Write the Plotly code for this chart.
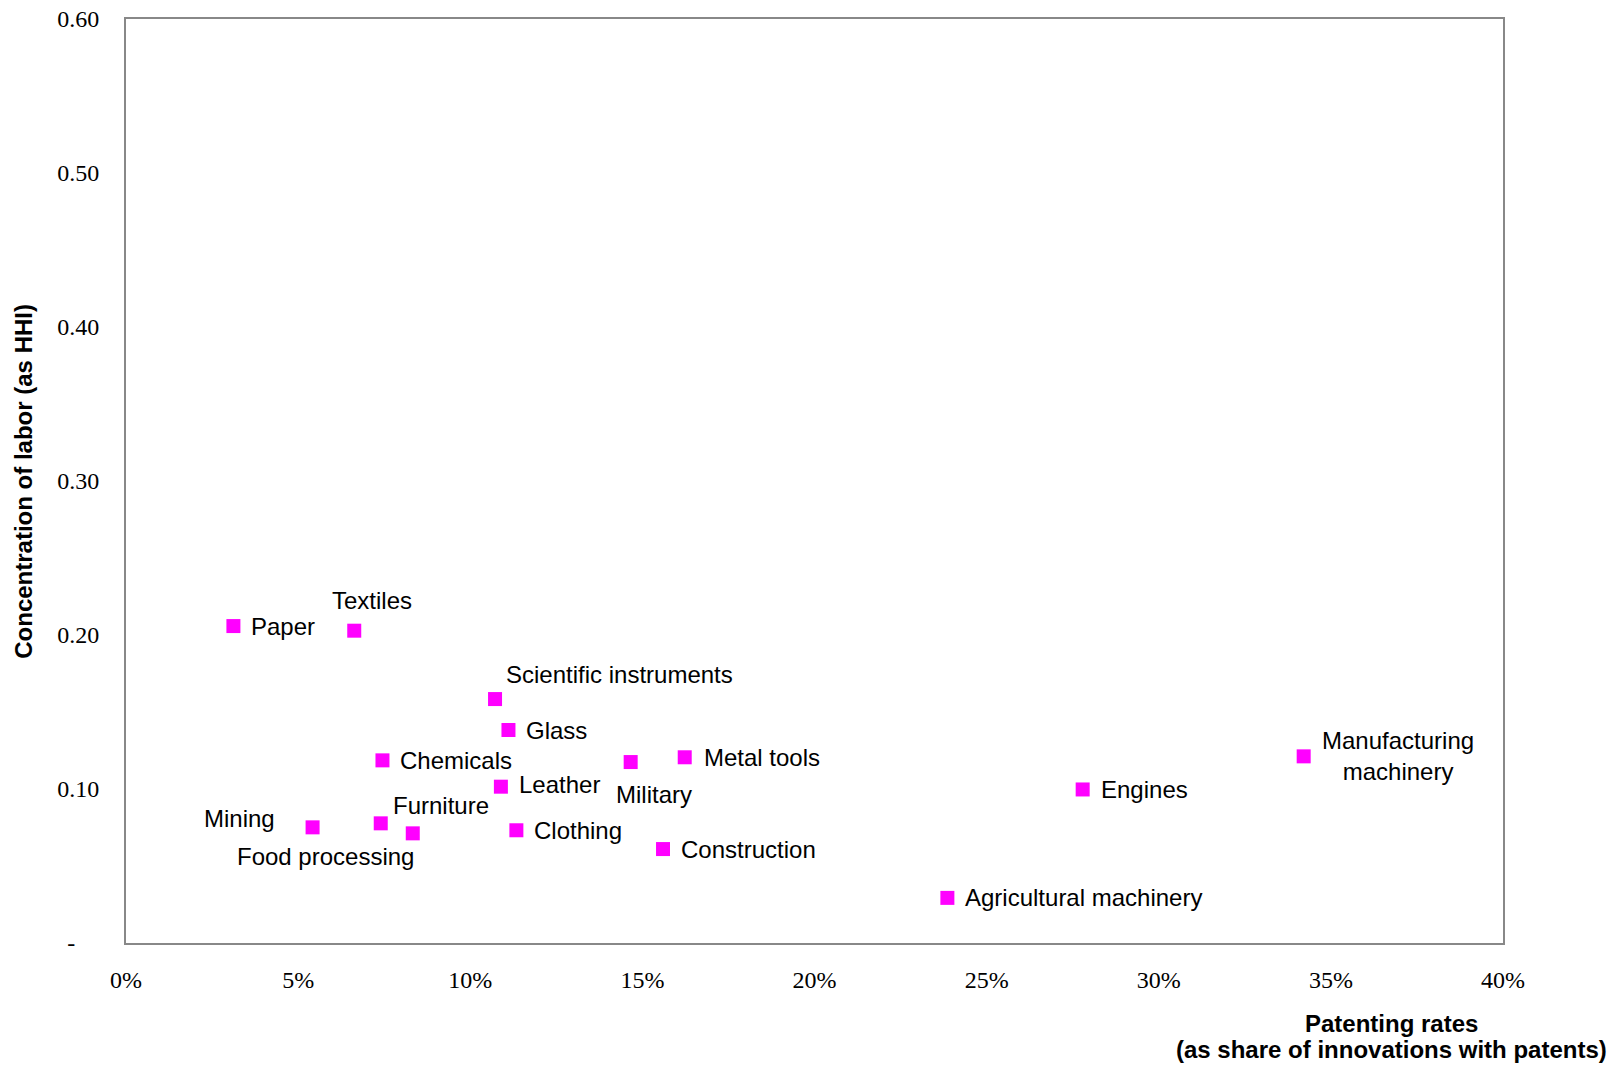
import plotly.graph_objects as go

# Industries: patenting rate (share of innovations with patents) vs. labor concentration (HHI)
industries = [
    "Paper", "Textiles", "Scientific instruments", "Glass", "Chemicals",
    "Leather", "Furniture", "Food processing", "Mining", "Clothing",
    "Military", "Metal tools", "Construction", "Manufacturing<br>machinery",
    "Engines", "Agricultural machinery",
]
patent_rate = [
    0.0312, 0.0663, 0.1072, 0.1111, 0.0745,
    0.1089, 0.0740, 0.0833, 0.0542, 0.1134,
    0.1466, 0.1623, 0.1560, 0.3421,
    0.2779, 0.2386,
]
hhi = [
    0.2058, 0.2028, 0.1584, 0.1383, 0.1186,
    0.1015, 0.0777, 0.0712, 0.0751, 0.0732,
    0.1175, 0.1206, 0.0610, 0.1212,
    0.0997, 0.0293,
]

x_tickvals = [0, 0.05, 0.10, 0.15, 0.20, 0.25, 0.30, 0.35, 0.40]
y_tickvals = [0, 0.1, 0.2, 0.3, 0.4, 0.5, 0.6]
y_ticktext = ["-\u00a0\u00a0\u00a0\u00a0", "0.10", "0.20", "0.30", "0.40", "0.50", "0.60"]

# label placement per point: (xanchor, xshift px, yshift px)
label_place = {
    "Paper": ("left", 16, 0),
    "Textiles": ("center", 18, 30),
    "Scientific instruments": ("left", 9, 25),
    "Glass": ("left", 16, 0),
    "Chemicals": ("left", 16, 0),
    "Leather": ("left", 16, 2),
    "Furniture": ("left", 10, 18),
    "Food processing": ("right", 3, -23),
    "Mining": ("right", -36, 9),
    "Clothing": ("left", 16, 0),
    "Military": ("center", 23, -32),
    "Metal tools": ("left", 17, 0),
    "Construction": ("left", 16, 0),
    "Manufacturing<br>machinery": ("center", 94, 0),
    "Engines": ("left", 16, 0),
    "Agricultural machinery": ("left", 16, 0),
}

LABEL_FONT = dict(family="Arial, Liberation Sans, sans-serif", size=24, color="#000000")
TICK_FONT = dict(family="Times New Roman, Liberation Serif, serif", size=24, color="#000000")
TITLE_FONT = dict(family="Arial, Liberation Sans, sans-serif", size=24, color="#000000")

fig = go.Figure()
fig.add_trace(go.Scatter(
    x=patent_rate, y=hhi, mode="markers",
    marker=dict(symbol="square", size=14, color="#FF00FF", line=dict(width=0)),
    hovertext=industries, hoverinfo="text+x+y", showlegend=False,
))

annotations = []
for name, xv, yv in zip(industries, patent_rate, hhi):
    anchor, dx, dy = label_place[name]
    annotations.append(dict(
        x=xv, y=yv, xref="x", yref="y", text=name, showarrow=False,
        xanchor=anchor, yanchor="middle", xshift=dx, yshift=dy,
        font=LABEL_FONT, align="center",
    ))

# axis titles
annotations.append(dict(
    x=-0.075, y=0.5, xref="paper", yref="paper", text="<b>Concentration of labor (as HHI)</b>",
    textangle=-90, showarrow=False, xanchor="center", yanchor="middle", font=TITLE_FONT,
))
annotations.append(dict(
    x=0.919, y=-0.0866, xref="paper", yref="paper", text="<b>Patenting rates</b>",
    showarrow=False, xanchor="center", yanchor="middle", font=TITLE_FONT,
))
annotations.append(dict(
    x=0.919, y=-0.1158, xref="paper", yref="paper",
    text="<b>(as share of innovations with patents)</b>",
    showarrow=False, xanchor="center", yanchor="middle", font=TITLE_FONT,
))

fig.update_layout(
    width=1620, height=1066,
    margin=dict(l=126, r=117, t=19, b=123),
    paper_bgcolor="white", plot_bgcolor="white",
    annotations=annotations,
    xaxis=dict(
        range=[0, 0.40], tickvals=x_tickvals, tickformat=".0%",
        showgrid=False, zeroline=False, automargin=False,
        showline=True, linecolor="#888888", linewidth=2, mirror=True,
        ticks="", tickfont=TICK_FONT, ticklabelstandoff=14,
    ),
    yaxis=dict(
        range=[0, 0.60], tickvals=y_tickvals, ticktext=y_ticktext,
        showgrid=False, zeroline=False, automargin=False,
        showline=True, linecolor="#888888", linewidth=2, mirror=True,
        ticks="", tickfont=TICK_FONT, ticklabelstandoff=20,
    ),
)

fig.write_html("out.html")
